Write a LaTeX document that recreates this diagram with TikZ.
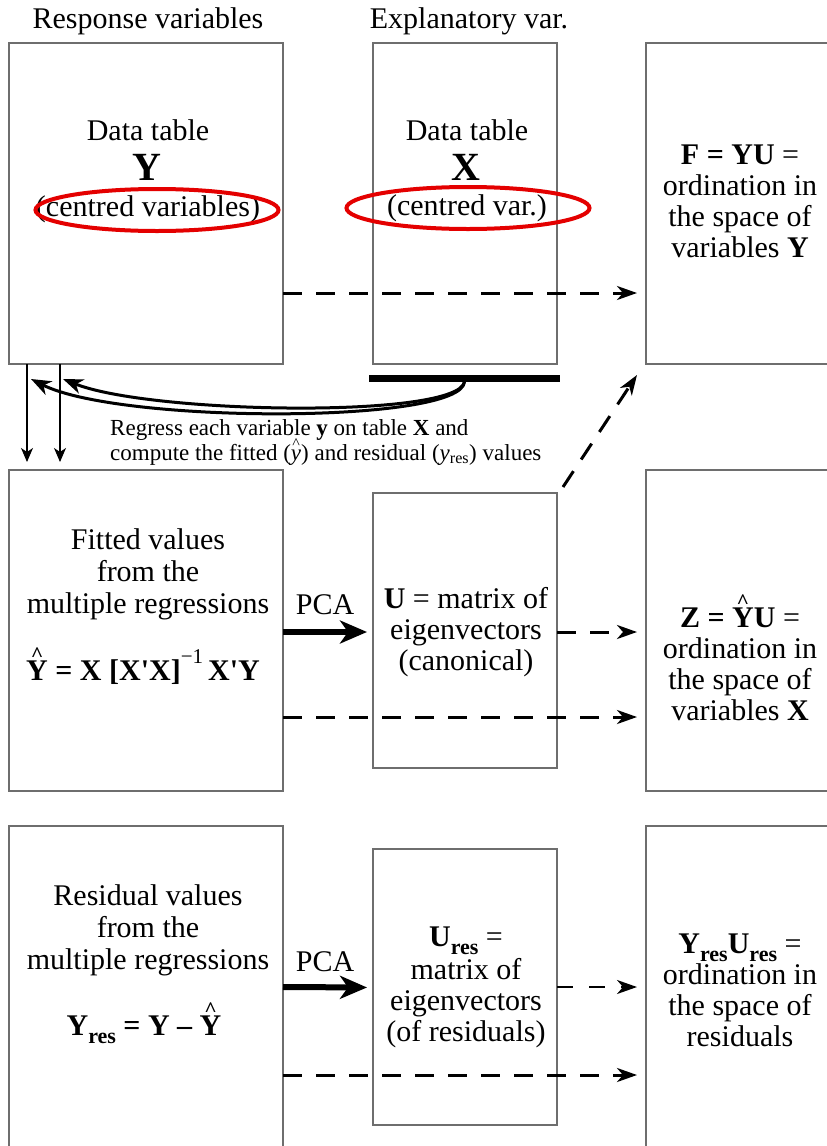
\documentclass[tikz,border=0pt]{standalone}
\usepackage{fontspec}
\usepackage{graphicx}
\newfontfamily\tnr{Liberation Serif}
\usetikzlibrary{arrows.meta,shapes.geometric}
\definecolor{boxgray}{RGB}{110,110,110}
\definecolor{ellred}{RGB}{228,0,0}
\newcommand\hatbf[1]{{\ooalign{\textbf{#1}\cr\hidewidth\smash{\raisebox{0.62em}{\scalebox{0.72}[0.7]{\textbf{\textasciicircum}}}}\hidewidth\cr}}}
\newcommand\hatit[1]{{\ooalign{\textit{#1}\cr\hidewidth\smash{\raisebox{0.5em}{\scalebox{0.7}[0.65]{\textasciicircum}}}\hidewidth\cr}}}
\newcommand\subres{\raisebox{-0.28em}{\fontsize{22}{22}\selectfont\textbf{res}}}
\begin{document}
\begin{tikzpicture}[x=1pt,y=-1pt,
  box/.style={draw=boxgray,line width=1.6pt,anchor=north west,inner sep=0pt,outer sep=0pt},
  txt/.style={font=\tnr\fontsize{30}{31}\selectfont,align=center,inner sep=0pt},
  txtb/.style={font=\tnr\fontsize{30}{32}\selectfont,align=center,inner sep=0pt},
  bigtxt/.style={font=\tnr\bfseries\fontsize{40}{40}\selectfont,inner sep=0pt},
  smalltxt/.style={font=\tnr\fontsize{23}{25}\selectfont,align=left,inner sep=0pt},
  ring/.style={draw=ellred,line width=4pt,ellipse,inner sep=0pt},
  dasharrow/.style={line width=3pt,dash pattern=on 19pt off 14pt,-{Stealth[length=20pt,width=14pt,inset=6pt]}},
  thindash/.style={line width=2pt,dash pattern=on 16pt off 16pt,-{Stealth[length=20pt,width=14pt,inset=6pt]}},
  pcaarrow/.style={line width=6pt,-{Stealth[length=27pt,width=23pt,inset=8pt]}},
  thinarrow/.style={line width=1.3pt,-{Stealth[length=14pt,width=12pt,inset=4pt]}},
  curvearrow/.style={line width=3pt,-{Stealth[length=20pt,width=15pt,inset=6pt]}}]
\clip (0,0) rectangle (827,1146);
% titles
\node[txt] (t1) at (148,21) {Response variables};
\node[txt] (t2) at (469,21) {Explanatory var.};
% boxes
\node[box,minimum width=274pt,minimum height=321pt] (Ybox) at (9,43) {};
\node[box,minimum width=184pt,minimum height=321pt] (Xbox) at (373,43) {};
\node[box,minimum width=190pt,minimum height=321pt] (Fbox) at (646,43) {};
\node[box,minimum width=274pt,minimum height=321pt] (Fitbox) at (9,470) {};
\node[box,minimum width=184pt,minimum height=275pt] (Ubox) at (373,493) {};
\node[box,minimum width=190pt,minimum height=321pt] (Zbox) at (646,470) {};
\node[box,minimum width=274pt,minimum height=321pt] (Resbox) at (9,826) {};
\node[box,minimum width=184pt,minimum height=276pt] (Uresbox) at (373,849) {};
\node[box,minimum width=190pt,minimum height=321pt] (Rbox) at (646,826) {};
% Y box text
\node[txt] (ydt) at (148,130) {Data table};
\node[bigtxt] (yl) at (147,167) {Y};
\node[txt] (ycv) at (148,209) {(centred variables)};
\node[ring,minimum width=243pt,minimum height=42pt] (ering1) at (157,210) {};
% X box text
\node[txt] (xdt) at (467,130) {Data table};
\node[bigtxt] (xl) at (466,167) {X};
\node[txt] (xcv) at (467,208) {(centred var.)};
\node[ring,minimum width=243pt,minimum height=42pt] (ering2) at (468,208) {};
% F box text
\node[txt] (ftxt) at (740,201) {\textbf{F = YU} =\\ordination in\\the space of\\variables \textbf{Y}};
% bar and regression arrows
\node[fill=black,minimum width=191pt,minimum height=7pt,inner sep=0pt] (bar) at (464.5,378) {};
\coordinate (c1) at (31,379);
\coordinate (c2) at (63,379);
\draw[curvearrow] (bar.south) .. controls (462,424) and (120,424) .. (c1);
\draw[curvearrow] (bar.south) .. controls (458,419) and (150,414) .. (c2);
\draw[thinarrow,shorten >=8pt] ([xshift=18pt]Ybox.south west) -- ([xshift=18pt]Fitbox.north west);
\draw[thinarrow,shorten >=8pt] ([xshift=51pt]Ybox.south west) -- ([xshift=51pt]Fitbox.north west);
\node[smalltxt,anchor=west] (reg) at (110,442) {Regress each variable \textbf{y} on table \textbf{X} and\\compute the fitted (\hatit{y}) and residual (\textit{y}\textsubscript{res}) values};
% top dashed arrow
\draw[dasharrow,shorten >=9pt] ([yshift=-89.5pt]Ybox.east) -- ([yshift=-89.5pt]Fbox.west);
% diagonal dashed
\draw[dasharrow] ([xshift=6pt,yshift=6pt]Ubox.north east) -- ([xshift=-9pt,yshift=-11pt]Fbox.south west);
% middle row text
\node[txtb] (fit) at (148,574) {Fitted values\\from the\\multiple regressions};
\node[txt,anchor=base] (fitf) at (143,680) {\textbf{\hatbf{Y} = X [X'X]}\raisebox{0.55em}{\fontsize{21}{21}\selectfont −1}\,\textbf{X'Y}};
\node[txt] (pca1) at (325,605) {PCA};
\node[txt] (utxt) at (466,632) {\textbf{U} = matrix of\\eigenvectors\\(canonical)};
\node[txt] (ztxt) at (740,664) {\textbf{Z = \hatbf{Y}U} =\\ordination in\\the space of\\variables \textbf{X}};
\draw[pcaarrow,shorten >=6pt] ([yshift=-1.5pt]Fitbox.east) -- ([yshift=-1.5pt]Ubox.west);
\draw[dasharrow,shorten >=9pt] ([yshift=-1.5pt]Ubox.east) -- ([yshift=-1.5pt]Zbox.west);
\draw[dasharrow,shorten >=9pt] ([yshift=-86.5pt]Fitbox.east) -- ([yshift=-86.5pt]Zbox.west);
% bottom row text
\node[txtb] (res) at (148,930) {Residual values\\from the\\multiple regressions};
\node[txt,anchor=base] (resf) at (144,1035) {\textbf{Y}\subres\textbf{ = Y – \hatbf{Y}}};
\node[txt] (pca2) at (325,962) {PCA};
\node[txt] (urtxt) at (466,987) {\textbf{U}\subres{} =\\[2pt]matrix of\\eigenvectors\\(of residuals)};
\node[txt] (rtxt) at (740,990) {\textbf{Y}\subres\textbf{U}\subres{} =\\ordination in\\the space of\\residuals};
\draw[pcaarrow,shorten >=6pt] ([yshift=-0.5pt]Resbox.east) -- ([yshift=-0.5pt]Uresbox.west);
\draw[thindash,shorten >=9pt] (Uresbox.east) -- ([yshift=-0.5pt]Rbox.west);
\draw[dasharrow,shorten >=9pt] ([yshift=-88.5pt]Resbox.east) -- ([yshift=-88.5pt]Rbox.west);
\end{tikzpicture}
\end{document}
